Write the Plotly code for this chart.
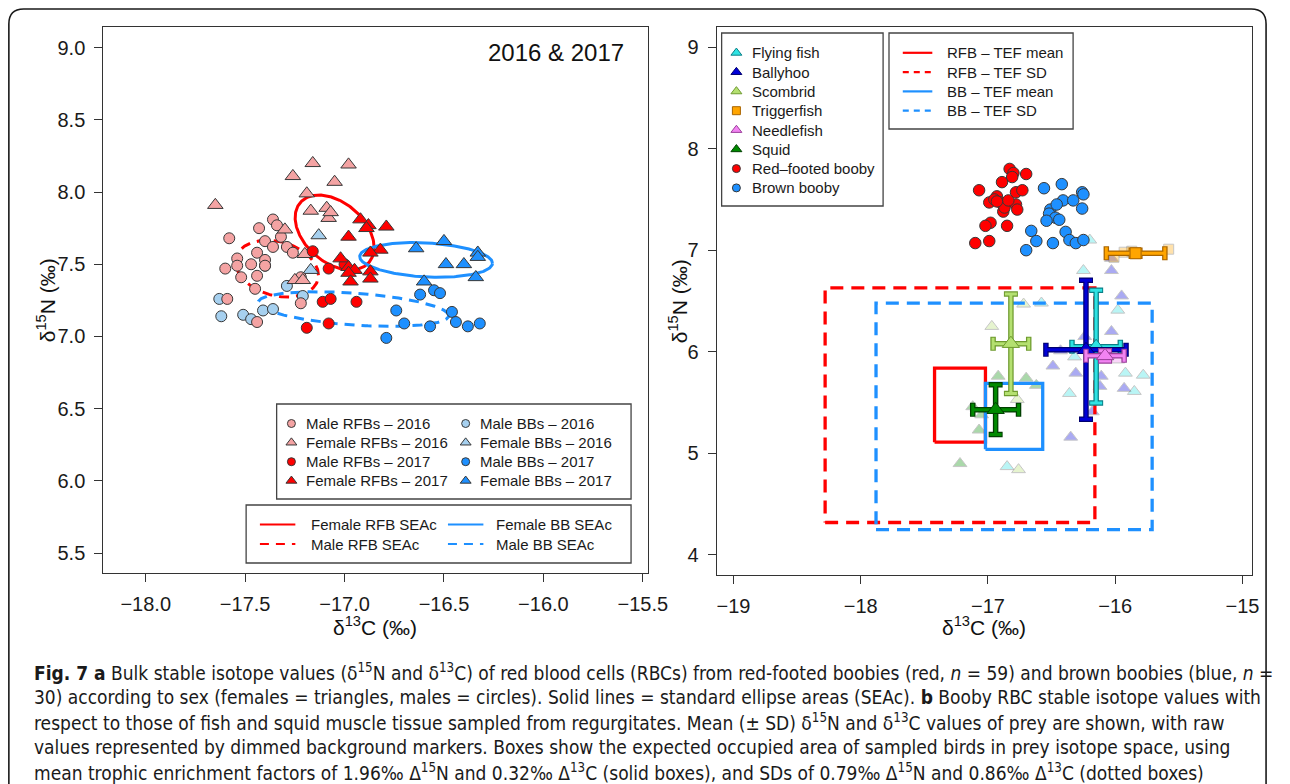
import numpy as np
import plotly.graph_objects as go

W, H = 1290, 784
FONT = "Liberation Sans, Arial, Helvetica, sans-serif"
CAP_FONT = "Liberation Sans Narrow, DejaVu Sans Condensed, Arial Narrow, sans-serif"

# ---------------- Panel a : RBC isotope values by sex and year ----------------
mrfb16_c = [-17.36, -17.34, -17.43, -17.58, -17.32, -17.40, -17.36, -17.29, -17.26, -17.44, -17.54, -17.54,
            -17.40, -17.40, -17.47, -17.60, -17.52, -17.44, -17.22, -17.45, -17.59, -17.22, -17.44]
mrfb16_n = [7.81, 7.77, 7.75, 7.68, 7.69, 7.66, 7.62, 7.62, 7.58, 7.58, 7.54, 7.49,
            7.53, 7.49, 7.50, 7.47, 7.41, 7.42, 7.41, 7.33, 7.26, 7.23, 7.10]
frfb16_c = [-17.16, -16.98, -17.26, -17.05, -17.19, -17.65, -17.17, -17.09, -17.08, -17.07, -17.30, -17.20, -17.25, -17.21]
frfb16_n = [8.20, 8.19, 8.11, 8.07, 7.99, 7.91, 7.87, 7.89, 7.82, 7.86, 7.74, 7.57, 7.39, 7.39]
mrfb17_c = [-17.16, -17.08, -17.11, -17.07, -16.94, -17.19, -17.08, -17.00]
mrfb17_n = [7.59, 7.47, 7.24, 7.26, 7.24, 7.06, 7.09, 7.50]
frfb17_c = [-16.92, -16.88, -16.89, -16.79, -16.98, -16.82, -16.87, -17.02, -16.98, -16.95, -16.98, -16.87, -16.97, -16.87]
frfb17_n = [7.81, 7.77, 7.75, 7.76, 7.69, 7.60, 7.58, 7.54, 7.48, 7.46, 7.44, 7.45, 7.38, 7.40]
mbb16_c = [-17.29, -17.63, -17.62, -17.51, -17.47, -17.41, -17.36, -17.21, -17.40]
mbb16_n = [7.35, 7.26, 7.14, 7.15, 7.12, 7.18, 7.19, 7.28, 7.49]
fbb16_c = [-17.13, -17.17]
fbb16_n = [7.70, 7.46]
mbb17_c = [-16.62, -16.55, -16.52, -16.74, -16.46, -16.70, -16.57, -16.44, -16.38, -16.32, -16.79]
mbb17_n = [7.29, 7.32, 7.30, 7.18, 7.17, 7.09, 7.07, 7.10, 7.07, 7.09, 6.99]
fbb17_c = [-16.64, -16.50, -16.33, -16.33, -16.49, -16.40, -16.34, -16.60]
fbb17_n = [7.61, 7.66, 7.58, 7.55, 7.50, 7.50, 7.41, 7.38]

# standard ellipses (SEAc): centre and covariance
sea_names = ["Female RFB SEAc", "Male RFB SEAc", "Female BB SEAc", "Male BB SEAc"]
sea_center_c = [-17.05, -17.34, -16.59, -16.955]
sea_center_n = [7.72, 7.47, 7.53, 7.19]
sea_var_c = [0.0394, 0.0435, 0.1114, 0.2295]
sea_var_n = [0.0673, 0.0386, 0.0144, 0.0144]
sea_cov_cn = [-0.0205, -0.0096, -0.0076, -0.0219]

# ---------------- Panel b : boobies vs prey ----------------
rfb_c = [-16.83, -16.80, -16.70, -16.81, -16.89, -17.07, -16.78, -16.73, -16.93, -16.99, -16.90, -16.86,
         -16.78, -16.88, -16.77, -16.98, -17.02, -16.85, -16.99, -17.10, -16.95, -16.87, -16.84, -16.93]
rfb_n = [7.80, 7.76, 7.75, 7.72, 7.67, 7.59, 7.57, 7.59, 7.53, 7.47, 7.47, 7.46,
         7.45, 7.38, 7.40, 7.27, 7.24, 7.24, 7.09, 7.07, 7.50, 7.42, 7.49, 7.48]
bb_c = [-16.56, -16.42, -16.26, -16.25, -16.41, -16.33, -16.26, -16.51, -16.52, -16.47, -16.54,
        -16.44, -16.66, -16.39, -16.62, -16.49, -16.36, -16.31, -16.25, -16.70, -16.46]
bb_n = [7.61, 7.65, 7.57, 7.55, 7.49, 7.49, 7.41, 7.40, 7.36, 7.32, 7.29,
        7.30, 7.19, 7.18, 7.09, 7.07, 7.10, 7.07, 7.10, 7.00, 7.45]

prey_names = ["Flying fish", "Ballyhoo", "Scombrid", "Triggerfish", "Needlefish", "Squid"]
prey_mean_c = [-16.15, -16.23, -16.82, -15.84, -16.08, -16.94]
prey_mean_n = [6.05, 6.02, 6.08, 6.97, 5.96, 5.43]
prey_sd_c = [0.19, 0.315, 0.14, 0.23, 0.15, 0.18]
prey_sd_n = [0.555, 0.685, 0.49, 0.03, 0.05, 0.245]

flying_raw_c = [-16.25, -16.58, -15.98, -15.92, -15.78, -15.85, -16.36, -16.20, -16.32, -16.85]
flying_raw_n = [6.80, 6.48, 6.41, 5.79, 5.77, 5.61, 5.59, 7.10, 5.95, 4.87]
ballyhoo_raw_c = [-16.03, -16.03, -15.95, -16.03, -16.49, -16.31, -16.11, -15.93, -16.12, -16.18, -16.35, -16.43, -16.24]
ballyhoo_raw_n = [6.92, 6.80, 6.55, 6.20, 5.86, 5.79, 5.76, 5.64, 5.66, 5.41, 5.16, 6.01, 6.15]
scombrid_raw_c = [-16.97, -16.72, -16.77, -16.76]
scombrid_raw_n = [6.25, 6.47, 5.53, 4.84]
trigger_raw_c = [-15.93, -15.58, -16.01, -15.87]
trigger_raw_n = [6.98, 7.01, 6.93, 6.99]
needle_raw_c = [-15.98, -16.18]
needle_raw_n = [5.92, 6.01]
squid_raw_c = [-16.92, -16.70, -16.62, -17.12, -17.05, -17.07, -17.22]
squid_raw_n = [5.76, 5.74, 5.67, 5.46, 5.38, 5.23, 4.90]

tef_mean_n, tef_mean_c = 1.96, 0.32
tef_sd_n, tef_sd_c = 0.79, 0.86

# ---------------- styles ----------------
PINK, RED, LBLUE, BLUE = "#F4A3A3", "#FF0000", "#A6D0EF", "#1E90FF"
EDGE = "#383838"
prey_fill = ["#2EE3E3", "#0000D8", "#B4E070", "#FFA500", "#F283F2", "#008A00"]
prey_edge = ["#0A7F86", "#00006E", "#6E9A2E", "#A86400", "#9A3E9A", "#003F00"]
prey_symbol = ["triangle-up", "triangle-up", "triangle-up", "square", "triangle-up", "triangle-up"]

fig = go.Figure()

def pts(c, n, sym, col, size, xa="x", ya="y", opacity=1.0, edge=EDGE):
    fig.add_trace(go.Scatter(x=c, y=n, mode="markers", xaxis=xa, yaxis=ya, showlegend=False,
                             hoverinfo="skip",
                             marker=dict(symbol=sym, size=size, color=col, opacity=opacity,
                                         line=dict(color=edge, width=1))))

# panel a: ellipses then points
sea_colors = [RED, RED, BLUE, BLUE]
sea_dash = ["solid", "10px,7px", "solid", "10px,7px"]
t = np.linspace(0, 2 * np.pi, 240)
for i in range(4):
    cov = np.array([[sea_var_c[i], sea_cov_cn[i]], [sea_cov_cn[i], sea_var_n[i]]])
    L = np.linalg.cholesky(cov)
    e = L @ np.vstack([np.cos(t), np.sin(t)])
    fig.add_trace(go.Scatter(x=sea_center_c[i] + e[0], y=sea_center_n[i] + e[1], mode="lines",
                             xaxis="x", yaxis="y", showlegend=False, hoverinfo="skip",
                             line=dict(color=sea_colors[i], width=3, dash=sea_dash[i])))

pts(mbb16_c, mbb16_n, "circle", LBLUE, 11)
pts(fbb16_c, fbb16_n, "triangle-up", LBLUE, 13.5)
pts(mrfb16_c, mrfb16_n, "circle", PINK, 11)
pts(frfb16_c, frfb16_n, "triangle-up", PINK, 13.5)
pts(mbb17_c, mbb17_n, "circle", BLUE, 11)
pts(fbb17_c, fbb17_n, "triangle-up", BLUE, 13.5)
pts(mrfb17_c, mrfb17_n, "circle", RED, 11)
pts(frfb17_c, frfb17_n, "triangle-up", RED, 13.5)

# panel b: raw prey (dimmed)
raw_c = [flying_raw_c, ballyhoo_raw_c, scombrid_raw_c, trigger_raw_c, needle_raw_c, squid_raw_c]
raw_n = [flying_raw_n, ballyhoo_raw_n, scombrid_raw_n, trigger_raw_n, needle_raw_n, squid_raw_n]
for i in range(6):
    pts(raw_c[i], raw_n[i], prey_symbol[i], prey_fill[i], 12 if prey_symbol[i] != "square" else 10,
        xa="x2", ya="y2", opacity=0.33, edge="#555")

# TEF boxes
def tef_box(c, n, pad_c, pad_n):
    c0 = min(c) - tef_mean_c - pad_c
    c1 = max(c) - tef_mean_c + pad_c
    n0 = min(n) - tef_mean_n - pad_n
    n1 = max(n) - tef_mean_n + pad_n
    return [c0, c1, c1, c0, c0], [n0, n0, n1, n1, n0]

box_specs = [(rfb_c, rfb_n, tef_sd_c, tef_sd_n, RED, "13px,8px"),
             (bb_c, bb_n, tef_sd_c, tef_sd_n, BLUE, "13px,8px"),
             (rfb_c, rfb_n, 0, 0, RED, "solid"),
             (bb_c, bb_n, 0, 0, BLUE, "solid")]
for c, n, pc, pn, col, dash in box_specs:
    bx, by = tef_box(c, n, pc, pn)
    fig.add_trace(go.Scatter(x=bx, y=by, mode="lines", xaxis="x2", yaxis="y2", showlegend=False,
                             hoverinfo="skip", line=dict(color=col, width=3.3, dash=dash)))

# prey means ± SD
for i in range(6):
    for thick, wid, col, mk in [(5.5, 7, prey_edge[i], False), (3, 6, prey_fill[i], True)]:
        fig.add_trace(go.Scatter(
            x=[prey_mean_c[i]], y=[prey_mean_n[i]], mode="markers", xaxis="x2", yaxis="y2",
            showlegend=False, hoverinfo="skip",
            error_x=dict(type="data", array=[prey_sd_c[i]], thickness=thick, width=wid, color=col),
            error_y=dict(type="data", array=[prey_sd_n[i]], thickness=thick, width=wid, color=col),
            marker=dict(symbol=prey_symbol[i], size=(15 if prey_symbol[i] != "square" else 11) if mk else 1,
                        color=prey_fill[i] if mk else "rgba(0,0,0,0)",
                        line=dict(color=prey_edge[i] if mk else "rgba(0,0,0,0)", width=1))))

# boobies
pts(rfb_c, rfb_n, "circle", RED, 11.5, xa="x2", ya="y2")
pts(bb_c, bb_n, "circle", BLUE, 11.5, xa="x2", ya="y2")

# ---------------- manual legends (overlay pixel axis for keys) ----------------
annotations = []
shapes = []
LEG_SIZE = 15

def px(x):
    return x / W

def py(y):
    return 1 - y / H

def leg_box(x0, y0, x1, y1):
    shapes.append(dict(type="rect", xref="paper", yref="paper", x0=px(x0), x1=px(x1), y0=py(y1), y1=py(y0),
                       line=dict(color="#444", width=1.3), fillcolor="rgba(0,0,0,0)"))

def leg_text(x, y, s):
    annotations.append(dict(x=px(x), y=py(y), xref="paper", yref="paper", text=s, showarrow=False,
                            xanchor="left", yanchor="middle",
                            font=dict(family=FONT, size=LEG_SIZE, color="#1a1a1a")))

def leg_marker(x, y, sym, col, edge=EDGE, size=8):
    fig.add_trace(go.Scatter(x=[x], y=[y], xaxis="x3", yaxis="y3", mode="markers", showlegend=False,
                             hoverinfo="skip", marker=dict(symbol=sym, size=size, color=col,
                                                           line=dict(color=edge, width=1))))

def leg_line(x0, x1, y, col, dash):
    fig.add_trace(go.Scatter(x=[x0, x1], y=[y, y], xaxis="x3", yaxis="y3", mode="lines", showlegend=False,
                             hoverinfo="skip", line=dict(color=col, width=2.2, dash=dash)))

# panel a point legend (two columns)
a_leg_col1 = ["Male RFBs – 2016", "Female RFBs – 2016", "Male RFBs – 2017", "Female RFBs – 2017"]
a_leg_col2 = ["Male BBs – 2016", "Female BBs – 2016", "Male BBs – 2017", "Female BBs – 2017"]
a_leg_sym = ["circle", "triangle-up", "circle", "triangle-up"]
a_leg_col1_color = [PINK, PINK, RED, RED]
a_leg_col2_color = [LBLUE, LBLUE, BLUE, BLUE]
leg_box(281, 404, 641, 499)
for i in range(4):
    yy = 423.5 + i * 19.1
    sz = 8 if a_leg_sym[i] == "circle" else 9.5
    leg_marker(296, yy, a_leg_sym[i], a_leg_col1_color[i], size=sz)
    leg_text(309, yy, a_leg_col1[i])
    leg_marker(473, yy, a_leg_sym[i], a_leg_col2_color[i], size=sz)
    leg_text(486, yy, a_leg_col2[i])

# panel a ellipse legend
leg_box(250, 505, 641, 563)
a_line_names_c1 = [sea_names[0], sea_names[1]]
a_line_names_c2 = [sea_names[2], sea_names[3]]
for i in range(2):
    yy = 524.5 + i * 19.5
    leg_line(264, 300, yy, RED, "solid" if i == 0 else "9px,7px")
    leg_text(314, yy, a_line_names_c1[i])
    leg_line(455, 491, yy, BLUE, "solid" if i == 0 else "9px,7px")
    leg_text(502, yy, a_line_names_c2[i])

# panel b species legend
b_leg_names = prey_names + ["Red–footed booby", "Brown booby"]
b_leg_sym = prey_symbol + ["circle", "circle"]
b_leg_fill = prey_fill + [RED, BLUE]
b_leg_edge = prey_edge + [EDGE, EDGE]
leg_box(733, 33, 897, 206)
for i in range(8):
    yy = 52.8 + i * 19.3
    sz = 9.5 if b_leg_sym[i] == "triangle-up" else 8
    leg_marker(748, yy, b_leg_sym[i], b_leg_fill[i], edge=b_leg_edge[i], size=sz)
    leg_text(762, yy, b_leg_names[i])

# panel b TEF legend
b_line_names = ["RFB – TEF mean", "RFB – TEF SD", "BB – TEF mean", "BB – TEF SD"]
b_line_cols = [RED, RED, BLUE, BLUE]
b_line_dash = ["solid", "6px,5px", "solid", "6px,5px"]
leg_box(903, 33, 1090, 129)
for i in range(4):
    yy = 52.8 + i * 19.3
    leg_line(917, 947, yy, b_line_cols[i], b_line_dash[i])
    leg_text(960, yy, b_line_names[i])

# ---------------- titles and labels ----------------
def ann_px(x, y, s, size, angle=0, xanchor="center", family=FONT, color="#111"):
    annotations.append(dict(x=px(x), y=py(y), xref="paper", yref="paper", text=s, showarrow=False,
                            xanchor=xanchor, yanchor="middle", textangle=angle,
                            font=dict(family=family, size=size, color=color)))

ann_px(47, 300, "δ<sup>15</sup>N (‰)", 21, angle=-90)
ann_px(381, 626, "δ<sup>13</sup>C (‰)", 21)
ann_px(689, 301, "δ<sup>15</sup>N (‰)", 21, angle=-90)
ann_px(1000, 626, "δ<sup>13</sup>C (‰)", 21)
ann_px(636, 53, "2016 &amp; 2017", 24, xanchor="right")

caption_lines = [
    "<b>Fig. 7 a</b> Bulk stable isotope values (δ<sup>15</sup>N and δ<sup>13</sup>C) of red blood cells (RBCs) from red-footed boobies (red, <i>n</i> = 59) and brown boobies (blue, <i>n</i> =",
    "30) according to sex (females = triangles, males = circles). Solid lines = standard ellipse areas (SEAc). <b>b</b> Booby RBC stable isotope values with",
    "respect to those of fish and squid muscle tissue sampled from regurgitates. Mean (± SD) δ<sup>15</sup>N and δ<sup>13</sup>C values of prey are shown, with raw",
    "values represented by dimmed background markers. Boxes show the expected occupied area of sampled birds in prey isotope space, using",
    "mean trophic enrichment factors of 1.96‰ Δ<sup>15</sup>N and 0.32‰ Δ<sup>13</sup>C (solid boxes), and SDs of 0.79‰ Δ<sup>15</sup>N and 0.86‰ Δ<sup>13</sup>C (dotted boxes)",
]
for i, line in enumerate(caption_lines):
    ann_px(32, 672 + i * 25, line, 19, xanchor="left", family=CAP_FONT, color="#1a1a1a")

# outer rounded frame
r = 15
frame_path = (f"M {px(9)} {py(800)} L {px(9)} {py(9 + r)} Q {px(9)} {py(9)} {px(9 + r)} {py(9)} "
              f"L {px(1286 - r)} {py(9)} Q {px(1286)} {py(9)} {px(1286)} {py(9 + r)} L {px(1286)} {py(800)}")
shapes.append(dict(type="path", xref="paper", yref="paper", path=frame_path,
                   line=dict(color="#1a1a1a", width=1.6)))

axis_common = dict(showline=True, mirror=True, linecolor="#333", linewidth=1.2, ticks="outside",
                   ticklen=8, tickwidth=1.2, tickcolor="#333", showgrid=False, zeroline=False,
                   ticklabelstandoff=5, fixedrange=True,
                   tickfont=dict(family=FONT, size=20, color="#1a1a1a"))

fig.update_layout(
    width=W, height=H, autosize=False,
    margin=dict(l=0, r=0, t=0, b=0, pad=0),
    paper_bgcolor="white", plot_bgcolor="rgba(0,0,0,0)",
    showlegend=False,
    xaxis=dict(domain=[px(105), px(658)], range=[-18.213, -15.475], tick0=-18, dtick=0.5,
               tickformat=".1f", anchor="y", **axis_common),
    yaxis=dict(domain=[py(573), py(27)], range=[5.362, 9.143], tick0=5.5, dtick=0.5,
               tickformat=".1f", anchor="x", **axis_common),
    xaxis2=dict(domain=[px(728), px(1272)], range=[-19.132, -14.923], tick0=-19, dtick=1,
                anchor="y2", **axis_common),
    yaxis2=dict(domain=[py(575), py(27)], range=[3.803, 9.197], tick0=4, dtick=1,
                anchor="x2", **axis_common),
    xaxis3=dict(domain=[0, 1], range=[0, W], visible=False, anchor="y3", fixedrange=True),
    yaxis3=dict(domain=[0, 1], range=[H, 0], visible=False, anchor="x3", fixedrange=True),
    annotations=annotations,
    shapes=shapes,
)

fig.write_html("out.html")
